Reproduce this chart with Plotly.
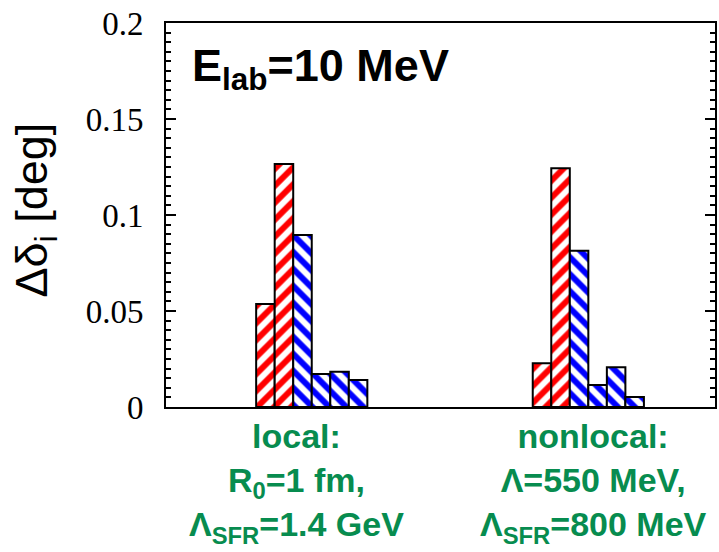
import plotly.graph_objects as go

categories = ["local", "nonlocal"]
series_names = ["s1", "s2", "s3", "s4", "s5", "s6"]
s1 = [0.0536, 0.0228]
s2 = [0.1266, 0.1243]
s3 = [0.0896, 0.0814]
s4 = [0.0172, 0.0115]
s5 = [0.0184, 0.0207]
s6 = [0.0141, 0.0052]
series_values = [s1, s2, s3, s4, s5, s6]
series_colors = ["#ff0000", "#ff0000", "#0000ff", "#0000ff", "#0000ff", "#0000ff"]
series_shapes = ["/", "/", "\\", "\\", "\\", "\\"]

y_ticks = [0, 0.05, 0.1, 0.15, 0.2]
y_ticktext = ["0", "0.05", "0.1", "0.15", "0.2"]

group_labels = [
    "<b>local:<br>R<sub>0</sub>=1 fm,<br>Λ<sub>SFR</sub>=1.4 GeV</b>",
    "<b>nonlocal:<br>Λ=550 MeV,<br>Λ<sub>SFR</sub>=800 MeV</b>",
]

fig = go.Figure()
for name, vals, col, shp in zip(series_names, series_values, series_colors, series_shapes):
    fig.add_trace(go.Bar(
        x=[0, 1], y=vals, name=name,
        marker=dict(color="white",
                    line=dict(color="black", width=2),
                    pattern=dict(shape=shp, fgcolor=col, bgcolor="white", fgopacity=1,
                                 size=12, solidity=0.5, fillmode="replace")),
        showlegend=False,
    ))

green = "#078c4f"
PLOT_L, PLOT_W, PLOT_B, PLOT_H = 166, 551, 407, 384


def px_x(px):
    return (px - PLOT_L) / PLOT_W


def px_y(py):
    return (PLOT_B - py) / PLOT_H


annotations = [
    dict(text="Δδ<sub>i</sub> [deg]", textangle=-90, xref="paper", yref="paper",
         x=px_x(34), y=px_y(210), xanchor="center", yanchor="middle",
         showarrow=False, font=dict(family="Liberation Sans", size=45, color="black")),
    dict(text="<b>E<sub>lab</sub>=10 MeV</b>", xref="paper", yref="paper",
         x=px_x(190), y=px_y(68), xanchor="left", yanchor="middle",
         showarrow=False, font=dict(family="Liberation Sans", size=45, color="black")),
]
label_centers = [297, 595]
for cx, txt in zip(label_centers, group_labels):
    annotations.append(dict(
        text=txt, xref="paper", yref="paper", x=px_x(cx), y=px_y(416),
        xanchor="center", yanchor="top", showarrow=False, borderpad=0,
        font=dict(family="Liberation Sans", size=34, color=green)))

fig.update_layout(
    width=719, height=552,
    margin=dict(l=166, r=2, t=23, b=145),
    paper_bgcolor="white", plot_bgcolor="white",
    barmode="group", bargap=0.598, bargroupgap=0,
    xaxis=dict(range=[-0.527, 1.458], showline=True, linecolor="black", linewidth=2,
               mirror=True, showticklabels=False, ticks="", showgrid=False, zeroline=False),
    yaxis=dict(range=[0, 0.2], tickvals=y_ticks, ticktext=y_ticktext,
               showline=True, linecolor="black", linewidth=2, mirror="ticks",
               ticks="inside", ticklen=10, tickwidth=2, tickcolor="black",
               minor=dict(ticks="inside", ticklen=5, tickwidth=2, dtick=0.005, tickcolor="black"),
               showgrid=False, zeroline=False,
               tickfont=dict(family="Liberation Serif", size=33, color="black"),
               ticklabelstandoff=14),
    annotations=annotations,
)

fig.write_html("out.html")
